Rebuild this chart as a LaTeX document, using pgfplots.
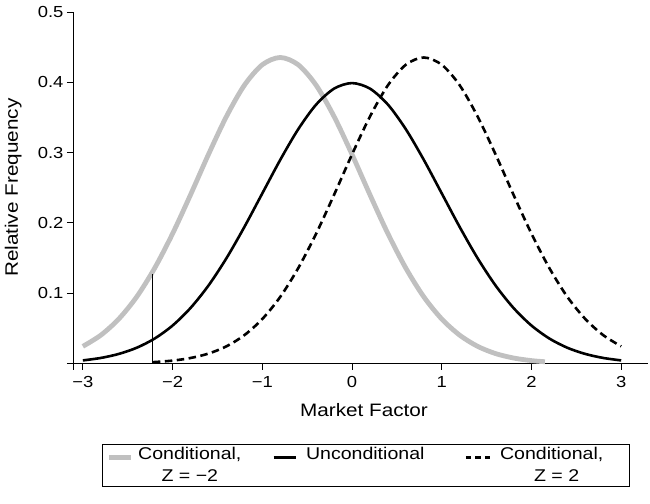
\documentclass[border=0pt]{standalone}
\usepackage{fontspec}
\setmainfont{Liberation Sans}[FakeStretch=1.15]
\usepackage{pgfplots}
\pgfplotsset{compat=1.18}

\definecolor{condgray}{RGB}{192,192,192}

\begin{document}
\begin{tikzpicture}
\begin{axis}[
  at={(0,0)}, anchor=south west,
  scale only axis,
  width=575.1pt, height=351.5pt,
  xmin=-3.11, xmax=3.3,
  ymin=0, ymax=0.5,
  axis x line*=bottom, axis y line*=left,
  axis line style={line width=0.9pt},
  clip=false,
  tick align=outside,
  major tick length=6pt,
  tick style={line width=0.9pt, black},
  xtick={-3,-2,-1,0,1,2,3},
  xticklabels={−3,−2,−1,0,1,2,3},
  ytick={0.1,0.2,0.3,0.4,0.5},
  yticklabels={0.1,0.2,0.3,0.4,0.5},
  ticklabel style={font=\fontsize{16}{18}\selectfont},
  xticklabel style={yshift=-3pt},
  xlabel={Market Factor},
  ylabel={Relative Frequency},
  label style={font=\fontsize{18}{20}\selectfont},
  xlabel style={at={(axis description cs:0.506,-0.1323)}, anchor=center},
  ylabel style={at={(axis description cs:-0.104,0.5)}, anchor=center},
  legend columns=3,
  legend style={
    at={(axis description cs:0.0504,-0.2290)}, anchor=north west,
    draw=black, line width=0.8pt,
    font=\fontsize{17}{22}\selectfont,
    cells={align=center},
    /tikz/column 1/.style={column sep=3pt},
    /tikz/column 2/.style={column sep=29pt},
    /tikz/column 3/.style={column sep=7pt},
    /tikz/column 4/.style={column sep=38pt},
    /tikz/column 5/.style={column sep=6pt},
    inner xsep=4pt, inner ysep=1pt,
  },
  legend image code/.code={
    \draw[#1] (0pt,8pt) -- (22pt,8pt);
  },
]
% conditional distribution of the market factor given Z = -2
\addplot[condgray, line width=4.8pt, smooth] coordinates {
  (-3.0,0.0244) (-2.8,0.0403) (-2.6,0.0633) (-2.4,0.0948) (-2.2,0.1356)
  (-2.0,0.1847) (-1.8,0.2400) (-1.6,0.2974) (-1.4,0.3513) (-1.2,0.3958)
  (-1.0,0.4250) (-0.8,0.4353) (-0.6,0.4250) (-0.4,0.3958) (-0.2,0.3513)
  (0.0,0.2974) (0.2,0.2400) (0.4,0.1847) (0.6,0.1356) (0.8,0.0948)
  (1.0,0.0633) (1.2,0.0403) (1.4,0.0244) (1.6,0.0141) (1.8,0.0078)
  (2.0,0.0041) (2.15,0.0025)
};
\addlegendentry{Conditional,\\Z = −2}
% unconditional (standard normal) density
\addplot[black, line width=2.6pt, smooth] coordinates {
  (-3.0,0.0044) (-2.8,0.0079) (-2.6,0.0136) (-2.4,0.0224) (-2.2,0.0355)
  (-2.0,0.0540) (-1.8,0.0790) (-1.6,0.1109) (-1.4,0.1497) (-1.2,0.1942)
  (-1.0,0.2420) (-0.8,0.2897) (-0.6,0.3332) (-0.4,0.3683) (-0.2,0.3910)
  (0.0,0.3989) (0.2,0.3910) (0.4,0.3683) (0.6,0.3332) (0.8,0.2897)
  (1.0,0.2420) (1.2,0.1942) (1.4,0.1497) (1.6,0.1109) (1.8,0.0790)
  (2.0,0.0540) (2.2,0.0355) (2.4,0.0224) (2.6,0.0136) (2.8,0.0079)
  (3.0,0.0044)
};
\addlegendentry{Unconditional\\\phantom{Z}}
% conditional distribution given Z = 2
\addplot[black, line width=2.6pt, dash pattern=on 7.5pt off 4.5pt, smooth,
  legend image code/.code={
    \draw[black, line width=2.6pt, dash pattern=on 5.5pt off 4pt] (0pt,8pt) -- (25pt,8pt);
  }] coordinates {
  (-2.22,0.0019) (-2.0,0.0041) (-1.8,0.0078) (-1.6,0.0141) (-1.4,0.0244)
  (-1.2,0.0403) (-1.0,0.0633) (-0.8,0.0948) (-0.6,0.1356) (-0.4,0.1847)
  (-0.2,0.2400) (0.0,0.2974) (0.2,0.3513) (0.4,0.3958) (0.6,0.4250)
  (0.8,0.4353) (1.0,0.4250) (1.2,0.3958) (1.4,0.3513) (1.6,0.2974)
  (1.8,0.2400) (2.0,0.1847) (2.2,0.1356) (2.4,0.0948) (2.6,0.0633)
  (2.8,0.0403) (3.0,0.0244)
};
\addlegendentry{\makebox[123pt][l]{Conditional,}\\\makebox[123pt][l]{\makebox[113pt][c]{Z = 2}}}
% threshold marker
\addplot[black, line width=0.9pt, forget plot] coordinates {(-2.22,0) (-2.22,0.128)};
% axis lines running slightly past their crossing point
\draw[line width=0.9pt] ([xshift=-6pt]axis cs:-3.11,0) -- (axis cs:-3.11,0) -- ([yshift=-6.5pt]axis cs:-3.11,0);
\end{axis}
\pgfresetboundingbox
\path[use as bounding box] (-73pt,-139.5pt) rectangle (577pt,363.5pt);
\end{tikzpicture}
\end{document}
